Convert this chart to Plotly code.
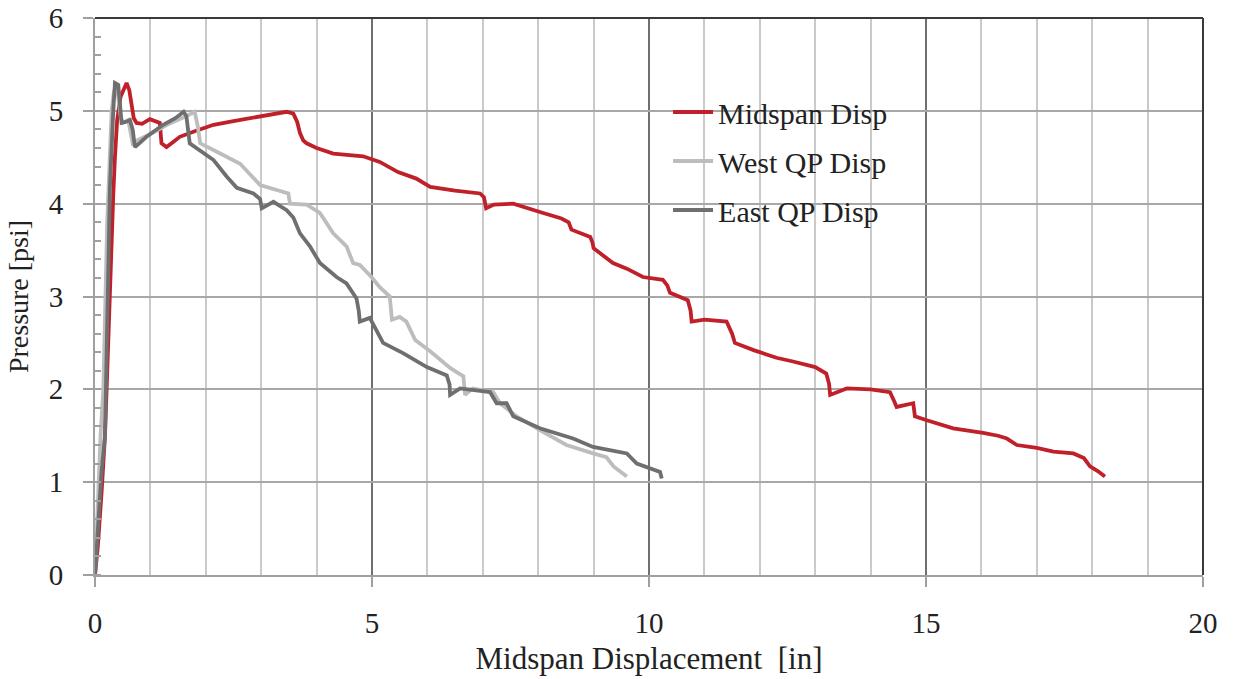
import plotly.graph_objects as go

# ---- data ----
mid_x = [0, 0.05, 0.12, 0.18, 0.21, 0.24, 0.27, 0.30, 0.33, 0.36, 0.40, 0.46, 0.52, 0.57, 0.62, 0.66, 0.70, 0.75,
         0.85, 0.99, 1.10, 1.17, 1.20, 1.29, 1.40, 1.53, 1.80, 2.14, 2.50, 2.80, 3.04, 3.25, 3.46, 3.58, 3.65, 3.70,
         3.76, 3.82, 4.0, 4.3, 4.6, 4.84, 5.14, 5.47, 5.8, 6.05, 6.5, 6.95, 7.02, 7.06, 7.2, 7.55, 8.03, 8.42, 8.55,
         8.6, 8.94, 8.98, 9.0, 9.35, 9.6, 9.89, 10.25, 10.33, 10.38, 10.7, 10.75, 10.77, 11.0, 11.4, 11.5, 11.55,
         11.9, 12.3, 12.6, 13.0, 13.2, 13.25, 13.27, 13.57, 14.0, 14.35, 14.42, 14.47, 14.77, 14.8, 15.0, 15.49,
         16.03, 16.3, 16.46, 16.64, 17.0, 17.3, 17.66, 17.85, 17.96, 18.1, 18.23]
mid_y = [0, 0.3, 0.9, 1.5, 2.0, 2.6, 3.2, 3.7, 4.1, 4.5, 4.9, 5.15, 5.22, 5.30, 5.22, 5.05, 4.92, 4.87,
         4.86, 4.91, 4.88, 4.87, 4.65, 4.61, 4.66, 4.72, 4.78, 4.85, 4.89, 4.92, 4.94, 4.96, 4.99, 4.97, 4.88, 4.76,
         4.68, 4.65, 4.6, 4.54, 4.52, 4.51, 4.45, 4.34, 4.27, 4.18, 4.14, 4.11, 4.07, 3.95, 3.99, 4.0, 3.91, 3.84, 3.8,
         3.72, 3.64, 3.58, 3.52, 3.36, 3.3, 3.21, 3.18, 3.12, 3.04, 2.96, 2.85, 2.73, 2.75, 2.73, 2.6, 2.5,
         2.42, 2.34, 2.3, 2.24, 2.17, 2.06, 1.94, 2.01, 2.0, 1.97, 1.88, 1.81, 1.85, 1.71, 1.67, 1.58,
         1.53, 1.5, 1.47, 1.40, 1.37, 1.33, 1.31, 1.26, 1.17, 1.12, 1.06]

west_x = [0, 0.03, 0.06, 0.1, 0.15, 0.18, 0.22, 0.26, 0.3, 0.34, 0.38, 0.42, 0.46, 0.5, 0.6, 0.68, 0.75, 1.0, 1.3,
          1.6, 1.8, 1.85, 1.9, 2.26, 2.62, 2.98, 3.34, 3.49, 3.52, 3.82, 4.06, 4.3, 4.54, 4.66, 4.78, 4.99, 5.14,
          5.32, 5.36, 5.5, 5.62, 5.78, 6.05, 6.41, 6.65, 6.68, 6.82, 7.19, 7.31, 7.61, 8.03, 8.51, 8.99, 9.23, 9.36, 9.6]
west_y = [0, 0.5, 1.0, 1.5, 2.0, 3.0, 3.8, 4.4, 5.0, 5.2, 5.25, 5.15, 4.95, 4.87, 4.9, 4.65, 4.68, 4.75, 4.85,
          4.93, 4.99, 4.85, 4.65, 4.54, 4.43, 4.2, 4.13, 4.11, 4.0, 3.99, 3.9, 3.68, 3.54, 3.36, 3.34, 3.21, 3.1,
          3.0, 2.75, 2.78, 2.73, 2.53, 2.41, 2.23, 2.14, 1.94, 2.01, 1.97, 1.85, 1.71, 1.56, 1.40, 1.31, 1.27, 1.17, 1.06]

east_x = [0, 0.05, 0.09, 0.12, 0.18, 0.21, 0.24, 0.27, 0.33, 0.36, 0.42, 0.48, 0.55, 0.63, 0.68, 0.72, 0.8, 0.93,
          1.23, 1.45, 1.6, 1.65, 1.71, 1.96, 2.14, 2.38, 2.56, 2.86, 2.98, 3.01, 3.22, 3.46, 3.58, 3.7, 3.88, 4.06,
          4.36, 4.54, 4.72, 4.76, 4.78, 4.96, 5.2, 5.56, 5.99, 6.35, 6.4, 6.41, 6.59, 7.13, 7.25, 7.43, 7.55, 8.03,
          8.63, 8.99, 9.6, 9.78, 10.08, 10.2, 10.23]
east_y = [0, 0.45, 0.84, 1.13, 1.49, 2.28, 3.36, 4.18, 5.0, 5.30, 5.28, 4.87, 4.88, 4.9, 4.8, 4.61, 4.65, 4.72,
          4.85, 4.92, 4.99, 4.94, 4.65, 4.54, 4.47, 4.29, 4.17, 4.11, 4.05, 3.95, 4.02, 3.93, 3.85, 3.68, 3.54, 3.36,
          3.21, 3.14, 2.98, 2.85, 2.73, 2.77, 2.50, 2.39, 2.24, 2.15, 2.05, 1.94, 2.01, 1.97, 1.85, 1.85, 1.71, 1.58,
          1.47, 1.38, 1.31, 1.20, 1.13, 1.11, 1.04]

names = ["Midspan Disp", "West QP Disp", "East QP Disp"]
colors = ["#C0202A", "#BDBDBD", "#6F6F70"]
x_ticks = [0, 5, 10, 15, 20]
y_ticks = [0, 1, 2, 3, 4, 5, 6]

FONT = "Liberation Serif"

fig = go.Figure()
for i, (xs, ys) in enumerate([(mid_x, mid_y), (west_x, west_y), (east_x, east_y)]):
    fig.add_trace(go.Scatter(x=xs, y=ys, mode="lines", name=names[i], legendgroup=f"g{i}",
                             line=dict(color=colors[i], width=3.8)))

fig.update_layout(
    width=1234, height=679,
    margin=dict(l=95, r=31, t=18, b=104, autoexpand=False),
    paper_bgcolor="white", plot_bgcolor="white",
    font=dict(family=FONT, color="#222222", size=28),
    showlegend=True,
    legend=dict(x=0.5172, y=0.8779, xanchor="left", yanchor="top",
                bgcolor="rgba(255,255,255,0)", borderwidth=0,
                font=dict(family=FONT, size=30, color="#222222"),
                tracegroupgap=7, itemwidth=40),
    shapes=[
        dict(type="rect", xref="paper", yref="paper", x0=0.4937, x1=0.768, y0=0.6086, y1=0.8743,
             fillcolor="white", line=dict(width=0), layer="between"),
        dict(type="line", xref="paper", yref="paper", x0=0, x1=1, y0=1, y1=1,
             line=dict(color="#3A3A3A", width=2), layer="above"),
        dict(type="line", xref="paper", yref="paper", x0=1, x1=1, y0=0, y1=1,
             line=dict(color="#3A3A3A", width=2), layer="above"),
    ],
)

fig.update_xaxes(
    range=[0, 20], tickmode="array", tickvals=x_ticks, ticktext=[str(v) for v in x_ticks],
    showgrid=True, gridcolor="#707070", gridwidth=1.5,
    minor=dict(dtick=1, showgrid=True, gridcolor="#CACACA", gridwidth=2),
    showline=True, linecolor="#A0A0A0", linewidth=2,
    ticks="outside", ticklen=10, tickcolor="#A0A0A0", tickwidth=1.5,
    tickfont=dict(family=FONT, size=29, color="#222222"), ticklabelstandoff=11,
    ticklabeloverflow="allow",
    zeroline=False, automargin=False,
    title=dict(text="Midspan Displacement \u00a0[in]", font=dict(family=FONT, size=31, color="#222222"),
               standoff=10),
)
fig.update_yaxes(
    range=[0, 6], tickmode="array", tickvals=y_ticks, ticktext=[str(v) for v in y_ticks],
    showgrid=True, gridcolor="#A8A8A8", gridwidth=2,
    minor=dict(dtick=0.2, ticks="inside", ticklen=6, tickcolor="#A0A0A0", tickwidth=1.5, showgrid=False),
    showline=True, linecolor="#A0A0A0", linewidth=2,
    ticks="outside", ticklen=10, tickcolor="#A0A0A0", tickwidth=1.5,
    tickfont=dict(family=FONT, size=29, color="#222222"), ticklabelstandoff=14,
    ticklabeloverflow="allow",
    zeroline=False, automargin=False,
    title=dict(text="Pressure [psi]", font=dict(family=FONT, size=28, color="#222222"), standoff=12),
)

fig.write_html("out.html", config={"displayModeBar": False},
               post_script="document.body.style.margin='0px';")
